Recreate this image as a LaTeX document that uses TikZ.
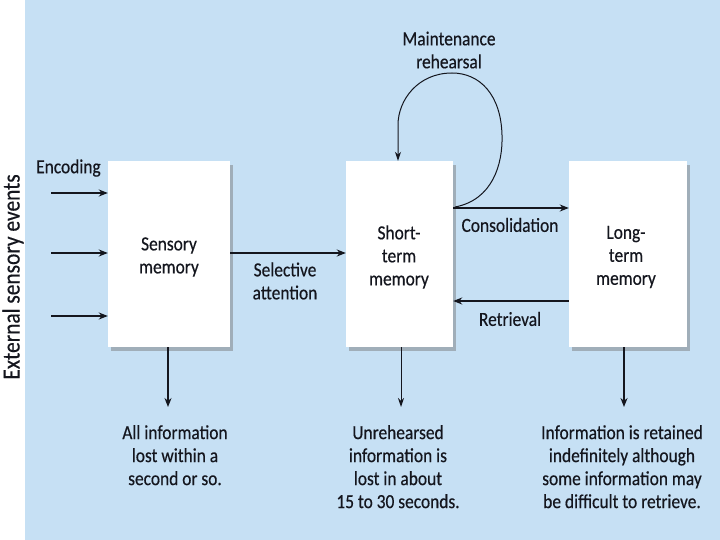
\documentclass[tikz,border=0pt]{standalone}
\usepackage{fontspec}
\setmainfont{Carlito}[FakeStretch=0.87,FakeBold=0.4]
\usetikzlibrary{arrows.meta,shadows,calc}
\definecolor{bgblue}{RGB}{198,224,244}
\definecolor{ink}{RGB}{20,22,30}
\tikzset{
  box/.style={fill=white, draw=none, minimum height=186pt, align=center, inner sep=0pt,
    drop shadow={shadow xshift=3pt, shadow yshift=-4pt, fill=black!55, opacity=0.45}},
  lbl/.style={align=center, text=ink, font=\fontsize{20}{23}\selectfont, inner sep=0pt},
  arr/.style={draw=ink, line width=1.5pt, -{Stealth[length=9pt,width=7pt]}},
  thinarr/.style={draw=ink, line width=1pt, -{Stealth[length=9pt,width=6pt]}}
}
\begin{document}
\begin{tikzpicture}[x=1pt,y=-1pt]
\useasboundingbox (0,0) rectangle (720,540);
\fill[white] (0,0) rectangle (720,540);
\fill[bgblue] (25,0) rectangle (720,540);
% boxes
\node[box, minimum width=122pt] (sens) at (169,254) {};
\node[box, minimum width=107pt] (stm) at (399.5,254) {};
\node[box, minimum width=118pt] (ltm) at (628,254) {};
\node[lbl] (senst) at (169,257) {Sensory\\memory};
\node[lbl] (stmt) at (399,257) {Short-\\term\\memory};
\node[lbl] (ltmt) at (626,257) {Long-\\term\\memory};
% side text
\node[lbl, rotate=90, font=\fontsize{24.6}{23}\selectfont] (ext) at (13,277) {External sensory events};
\node[lbl, anchor=west] (enc) at (36,168) {Encoding};
\coordinate (e1) at (51,193);
\coordinate (e2) at (51,253);
\coordinate (e3) at (51,316);
\draw[arr] (e1) -- (sens.west |- e1);
\draw[arr] (e2) -- (sens.west |- e2);
\draw[arr] (e3) -- (sens.west |- e3);
% selective attention
\draw[arr] (sens.east |- 0,253) -- (stm.west |- 0,253);
\node[lbl] (sel) at (285,281) {Selective\\attention};
% consolidation
\draw[arr] (stm.east |- 0,208) -- (ltm.west |- 0,208);
\node[lbl] (cons) at (510,225) {Consolidation};
% retrieval
\draw[arr] (ltm.west |- 0,301) -- (stm.east |- 0,301);
\node[lbl] (ret) at (510,319) {Retrieval};
% rehearsal loop
\coordinate (ls) at (455,207);
\draw[thinarr] (ls) .. controls (492,200) and (503,165) .. (502,135)
  .. controls (501,95) and (480,73) .. (452,73)
  .. controls (418,73) and (398,100) .. (398,125)
  -- (stm.north -| 398,0);
\node[lbl] (maint) at (449,50) {Maintenance\\rehearsal};
% down arrows
\coordinate (d1) at (168,407);
\coordinate (d2) at (401,407);
\coordinate (d3) at (624,407);
\draw[arr] (sens.south -| d1) -- (d1);
\draw[thinarr] (stm.south -| d2) -- (d2);
\draw[arr] (ltm.south -| d3) -- (d3);
\node[lbl, anchor=north] (t1) at (175,425) {All information\\lost within a\\second or so.};
\node[lbl, anchor=north] (t2) at (398,425) {Unrehearsed\\information is\\lost in about\\15 to 30 seconds.};
\node[lbl, anchor=north] (t3) at (622,425) {Information is retained\\indefinitely although\\some information may\\be difficult to retrieve.};
\end{tikzpicture}
\end{document}
